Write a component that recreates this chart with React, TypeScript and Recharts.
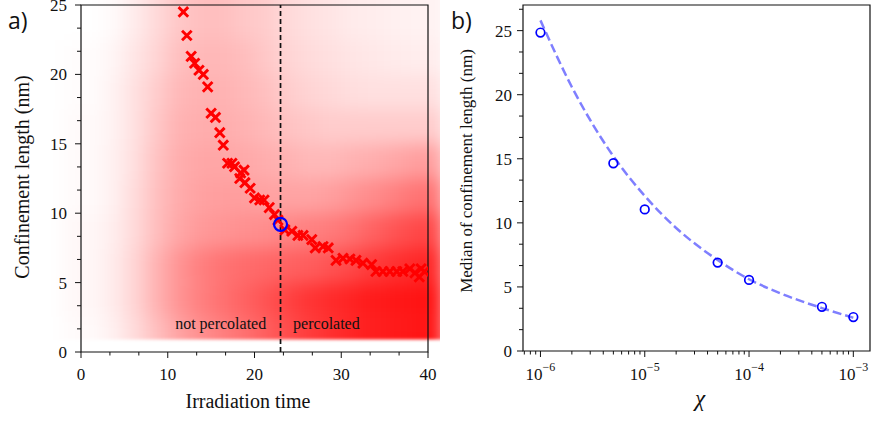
import React from "react";
import {
  ScatterChart,
  ComposedChart,
  Scatter,
  Line,
  XAxis,
  YAxis,
  ReferenceArea,
  ReferenceLine,
} from "recharts";

// ---------- panel a) confinement length vs irradiation time ----------
const timeDomain = [0, 40];
const lengthDomain = [0, 25];
const timeMajorTicks = [0, 10, 20, 30, 40];
const timeMinorTicks = [10 / 3, 20 / 3, 40 / 3, 50 / 3, 70 / 3, 80 / 3, 100 / 3, 110 / 3];
const lengthMajorTicks = [0, 5, 10, 15, 20, 25];
const lengthMinorTicks = [5 / 3, 10 / 3, 20 / 3, 25 / 3, 35 / 3, 40 / 3, 50 / 3, 55 / 3, 65 / 3, 70 / 3];

// median of the distribution (red crosses)
const medianTime = [
  11.8, 12.2, 12.7, 13.1, 13.6, 14.1, 14.6, 15.0, 15.5, 16.0, 16.4, 16.9, 17.4, 17.7, 18.3, 18.4, 18.8,
  18.9, 19.5, 20.0, 20.6, 21.1, 21.7, 22.3, 22.7, 23.5, 24.3, 25.0, 25.6, 26.6, 27.0, 27.9, 28.5, 29.4,
  30.2, 31.0, 31.7, 32.5, 33.5, 34.0, 34.8, 35.6, 36.4, 37.1, 37.9, 38.5, 39.0, 39.2, 39.6,
];
const medianLength = [
  24.5, 22.8, 21.3, 20.8, 20.3, 20.0, 19.1, 17.2, 16.9, 15.8, 14.9, 13.6, 13.6, 13.35, 12.5, 12.9, 13.1,
  12.2, 11.8, 11.1, 10.95, 10.95, 10.4, 9.9, 9.5, 8.8, 8.7, 8.4, 8.4, 8.1, 7.5, 7.6, 7.5, 6.6,
  6.75, 6.7, 6.6, 6.4, 6.3, 5.8, 5.8, 5.8, 5.8, 5.8, 6.0, 5.7, 5.4, 6.0, 5.8,
];

// percolation threshold
const percolationTime = 23.0;
const percolationLength = 9.2;

// point cloud density (rows top -> bottom, cols left -> right)
const cloudTimeEdges = [-2, 2.5, 5, 7.5, 10, 12.5, 15, 17.5, 20, 22.5, 25, 27.5, 30, 32.5, 35, 37.5, 42];
const cloudLengthEdges = [27, 22.5, 20, 17.5, 15, 12.5, 10, 7.5, 5, 2.5, -1];
const cloudFloor = 0.9;
const cloudDensity = [
  [0.0, 0.02, 0.08, 0.15, 0.22, 0.25, 0.25, 0.22, 0.2, 0.15, 0.12, 0.1, 0.08, 0.07, 0.06, 0.05],
  [0.01, 0.04, 0.1, 0.17, 0.25, 0.28, 0.28, 0.26, 0.22, 0.17, 0.14, 0.12, 0.1, 0.09, 0.08, 0.07],
  [0.01, 0.05, 0.12, 0.2, 0.28, 0.3, 0.3, 0.28, 0.25, 0.2, 0.17, 0.15, 0.13, 0.12, 0.12, 0.12],
  [0.02, 0.05, 0.12, 0.22, 0.3, 0.32, 0.32, 0.3, 0.28, 0.24, 0.22, 0.2, 0.2, 0.2, 0.2, 0.2],
  [0.02, 0.06, 0.13, 0.24, 0.32, 0.35, 0.35, 0.34, 0.32, 0.3, 0.28, 0.28, 0.3, 0.32, 0.35, 0.38],
  [0.02, 0.06, 0.14, 0.25, 0.33, 0.37, 0.38, 0.38, 0.37, 0.36, 0.36, 0.38, 0.42, 0.46, 0.5, 0.55],
  [0.03, 0.07, 0.15, 0.26, 0.35, 0.4, 0.42, 0.44, 0.45, 0.48, 0.5, 0.52, 0.56, 0.62, 0.68, 0.72],
  [0.03, 0.08, 0.17, 0.3, 0.42, 0.5, 0.55, 0.58, 0.6, 0.62, 0.64, 0.68, 0.72, 0.78, 0.82, 0.85],
  [0.03, 0.08, 0.17, 0.3, 0.42, 0.5, 0.56, 0.62, 0.68, 0.74, 0.8, 0.84, 0.87, 0.9, 0.92, 0.93],
  [0.02, 0.06, 0.14, 0.25, 0.36, 0.44, 0.5, 0.56, 0.63, 0.7, 0.77, 0.82, 0.86, 0.89, 0.91, 0.92],
];

const annotations = [
  { x: 21.35, y: 1.66, text: "not percolated", anchor: "end" },
  { x: 24.45, y: 1.66, text: "percolated", anchor: "start" },
];

// ---------- panel b) median vs chi ----------
const chiDomain = [6.8e-7, 1.445e-3];
const chiMajorTicks = [1e-6, 1e-5, 1e-4, 1e-3];
const chiMinorTicks = [
  7e-7, 8e-7, 9e-7, 2e-6, 3e-6, 4e-6, 5e-6, 6e-6, 7e-6, 8e-6, 9e-6, 2e-5, 3e-5, 4e-5, 5e-5, 6e-5, 7e-5,
  8e-5, 9e-5, 2e-4, 3e-4, 4e-4, 5e-4, 6e-4, 7e-4, 8e-4, 9e-4,
];
const medianDomain = [0, 27];
const medianMajorTicks = [0, 5, 10, 15, 20, 25];
const medianMinorTicks = [5 / 3, 10 / 3, 20 / 3, 25 / 3, 35 / 3, 40 / 3, 50 / 3, 55 / 3, 65 / 3, 70 / 3, 80 / 3];

const chi = [1e-6, 5e-6, 1e-5, 5e-5, 1e-4, 5e-4, 1e-3];
const medianConf = [24.85, 14.65, 11.05, 6.9, 5.55, 3.45, 2.65];

const fitChi = [1e-6, 2e-6, 5e-6, 1e-5, 2e-5, 5e-5, 1e-4, 2e-4, 5e-4, 1e-3];
const fitConf = [25.8, 20.6, 15.2, 12.1, 9.6, 7.1, 5.6, 4.5, 3.35, 2.6];

const AXIS = "#111";
const SERIF = "'Liberation Serif', 'Times New Roman', serif";

const medianData = medianTime.map((t, i) => ({ x: t, y: medianLength[i] }));
const chiData = chi.map((c, i) => ({ x: c, y: medianConf[i] }));
const fitData = fitChi.map((c, i) => ({ x: c, y: fitConf[i] }));

const LeftXTick = (props: any) => {
  const { x, y, payload } = props;
  const major = timeMajorTicks.includes(payload.value);
  return (
    <g>
      <line x1={x} x2={x} y1={y} y2={y + (major ? 6 : 3.5)} stroke={AXIS} strokeWidth={1} />
      {major && (
        <text x={x} y={y + 28} textAnchor="middle" fontSize={17} fontFamily={SERIF} fill="#111">
          {payload.value}
        </text>
      )}
    </g>
  );
};

const LeftYTick = (props: any) => {
  const { x, y, payload } = props;
  const major = lengthMajorTicks.includes(payload.value);
  return (
    <g>
      <line x1={x} x2={x - (major ? 6 : 4)} y1={y} y2={y} stroke={AXIS} strokeWidth={1} />
      {major && (
        <text x={x - 14} y={y + 6} textAnchor="end" fontSize={17} fontFamily={SERIF} fill="#111">
          {payload.value}
        </text>
      )}
    </g>
  );
};

const RightXTick = (props: any) => {
  const { x, y, payload } = props;
  const major = chiMajorTicks.includes(payload.value);
  const exp = Math.round(Math.log10(payload.value));
  return (
    <g>
      <line x1={x} x2={x} y1={y} y2={y + (major ? 6 : 3.5)} stroke={AXIS} strokeWidth={1} />
      {major && (
        <text x={x} y={y + 29} textAnchor="middle" fontSize={17} fontFamily={SERIF} fill="#111">
          <tspan>10</tspan>
          <tspan dy={-9} fontSize={12}>
            {"\u2212" + Math.abs(exp)}
          </tspan>
        </text>
      )}
    </g>
  );
};

const RightYTick = (props: any) => {
  const { x, y, payload } = props;
  const major = medianMajorTicks.includes(payload.value);
  return (
    <g>
      <line x1={x} x2={x - (major ? 6 : 4)} y1={y} y2={y} stroke={AXIS} strokeWidth={1} />
      {major && (
        <text x={x - 11} y={y + 6} textAnchor="end" fontSize={17} fontFamily={SERIF} fill="#111">
          {payload.value}
        </text>
      )}
    </g>
  );
};

const Cross = (props: any) => {
  const { cx, cy } = props;
  const r = 4.8;
  return (
    <path
      d={`M${cx - r},${cy - r}L${cx + r},${cy + r}M${cx - r},${cy + r}L${cx + r},${cy - r}`}
      stroke="#ff0000"
      strokeWidth={2.9}
      fill="none"
    />
  );
};

const Ring = (r: number, w: number) => (props: any) => (
  <circle cx={props.cx} cy={props.cy} r={r} fill="none" stroke="#0000ff" strokeWidth={w} />
);

const Annotation = (props: any) => (
  <text
    x={props.cx}
    y={props.cy}
    textAnchor={props.payload.anchor}
    fontSize={16}
    fontFamily={SERIF}
    fill="#111"
  >
    {props.payload.text}
  </text>
);

// cloud of translucent points, drawn as blurred density cells inside the plot area
const DensityCloud = (props: any) => {
  const { x, y, width, height } = props;
  const px = (t: number) => x + ((t - timeDomain[0]) / (timeDomain[1] - timeDomain[0])) * width;
  const py = (v: number) => y + ((lengthDomain[1] - v) / (lengthDomain[1] - lengthDomain[0])) * height;
  const cells: React.ReactNode[] = [];
  cloudDensity.forEach((row, r) =>
    row.forEach((d, c) => {
      const x0 = px(cloudTimeEdges[c]);
      const x1 = px(cloudTimeEdges[c + 1]);
      const y0 = py(cloudLengthEdges[r]);
      const y1 = py(cloudLengthEdges[r + 1]);
      cells.push(
        <rect key={`${r}-${c}`} x={x0} y={y0} width={x1 - x0} height={y1 - y0} fill="#ff0000" fillOpacity={d} />
      );
    })
  );
  return (
    <g>
      <defs>
        <filter id="cloudBlur" x="-20%" y="-20%" width="140%" height="140%">
          <feGaussianBlur stdDeviation="9 9" />
        </filter>
        <filter id="edgeSoft" x="-5%" y="-5%" width="110%" height="110%">
          <feGaussianBlur stdDeviation="1.6" />
        </filter>
        <clipPath id="cloudClip">
          <rect x={x - 60} y={y - 60} width={width + 120} height={py(cloudFloor) - y + 60} />
        </clipPath>
      </defs>
      <g filter="url(#edgeSoft)">
        <g clipPath="url(#cloudClip)">
          <g filter="url(#cloudBlur)">{cells}</g>
        </g>
      </g>
    </g>
  );
};

const PanelA = () => (
  <ScatterChart width={440} height={421} margin={{ top: 5, right: 12, bottom: 39, left: 31 }}>
    <XAxis
      dataKey="x"
      type="number"
      domain={timeDomain}
      allowDataOverflow
      ticks={[...timeMajorTicks, ...timeMinorTicks]}
      interval={0}
      tick={LeftXTick}
      tickLine={false}
      tickSize={0}
      tickMargin={0}
      axisLine={false}
      height={30}
    />
    <YAxis
      dataKey="y"
      type="number"
      domain={lengthDomain}
      allowDataOverflow
      ticks={[...lengthMajorTicks, ...lengthMinorTicks]}
      interval={0}
      tick={LeftYTick}
      tickLine={false}
      tickSize={0}
      tickMargin={0}
      axisLine={false}
      width={50}
    />
    <ReferenceArea
      x1={timeDomain[0]}
      x2={timeDomain[1]}
      y1={lengthDomain[0]}
      y2={lengthDomain[1]}
      ifOverflow="hidden"
      shape={DensityCloud}
    />
    <ReferenceLine x={percolationTime} stroke="#111" strokeWidth={1.7} strokeDasharray="5 3" />
    <Scatter data={medianData} shape={Cross} isAnimationActive={false} />
    <Scatter
      data={[{ x: percolationTime, y: percolationLength }]}
      shape={Ring(6.5, 2.2)}
      isAnimationActive={false}
    />
    <Scatter data={annotations} shape={Annotation} isAnimationActive={false} />
    <ReferenceArea
      x1={timeDomain[0]}
      x2={timeDomain[1]}
      y1={lengthDomain[0]}
      y2={lengthDomain[1]}
      fill="none"
      stroke={AXIS}
      strokeWidth={1.2}
      ifOverflow="visible"
    />
  </ScatterChart>
);

const PanelB = () => (
  <ComposedChart width={436} height={421} margin={{ top: 5, right: 6, bottom: 40, left: 33 }}>
    <XAxis
      dataKey="x"
      type="number"
      scale="log"
      domain={chiDomain}
      allowDataOverflow
      ticks={[...chiMajorTicks, ...chiMinorTicks]}
      interval={0}
      tick={RightXTick}
      tickLine={false}
      tickSize={0}
      tickMargin={0}
      axisLine={false}
      height={30}
    />
    <YAxis
      dataKey="y"
      type="number"
      domain={medianDomain}
      allowDataOverflow
      ticks={[...medianMajorTicks, ...medianMinorTicks]}
      interval={0}
      tick={RightYTick}
      tickLine={false}
      tickSize={0}
      tickMargin={0}
      axisLine={false}
      width={50}
    />
    <Line
      data={fitData}
      dataKey="y"
      type="monotone"
      stroke="#0000ff"
      strokeOpacity={0.5}
      strokeWidth={2.5}
      strokeDasharray="9 4"
      dot={false}
      activeDot={false}
      isAnimationActive={false}
    />
    <Scatter data={chiData} shape={Ring(4.3, 1.7)} isAnimationActive={false} />
    <ReferenceArea
      x1={chiDomain[0]}
      x2={chiDomain[1]}
      y1={medianDomain[0]}
      y2={medianDomain[1]}
      fill="none"
      stroke={AXIS}
      strokeWidth={1.2}
      ifOverflow="visible"
    />
  </ComposedChart>
);

export default function App() {
  return (
    <div style={{ position: "absolute", left: 0, top: 0, width: 876, height: 421, background: "#fff" }}>
      <div style={{ position: "absolute", left: 0, top: 0 }}>
        <PanelA />
      </div>
      <div style={{ position: "absolute", left: 440, top: 0 }}>
        <PanelB />
      </div>
      <svg
        width={876}
        height={421}
        style={{ position: "absolute", left: 0, top: 0, pointerEvents: "none" }}
      >
        <text x={8} y={29} fontSize={23} fontFamily="'Open Sans', sans-serif" fill="#111">
          a)
        </text>
        <text x={451} y={29} fontSize={23} fontFamily="'Open Sans', sans-serif" fill="#111">
          b)
        </text>
        <text
          x={0}
          y={0}
          transform="translate(29,177) rotate(-90)"
          textAnchor="middle"
          fontSize={20}
          fontFamily={SERIF}
          fill="#111"
        >
          Confinement length (nm)
        </text>
        <text x={248} y={408} textAnchor="middle" fontSize={20} fontFamily={SERIF} fill="#111">
          Irradiation time
        </text>
        <text
          x={0}
          y={0}
          transform="translate(472,171) rotate(-90)"
          textAnchor="middle"
          fontSize={17}
          fontFamily={SERIF}
          fill="#111"
        >
          Median of confinement length (nm)
        </text>
        <text
          x={700}
          y={406}
          textAnchor="middle"
          fontSize={23}
          fontStyle="italic"
          fontFamily={SERIF}
          fill="#111"
        >
          χ
        </text>
      </svg>
    </div>
  );
}
